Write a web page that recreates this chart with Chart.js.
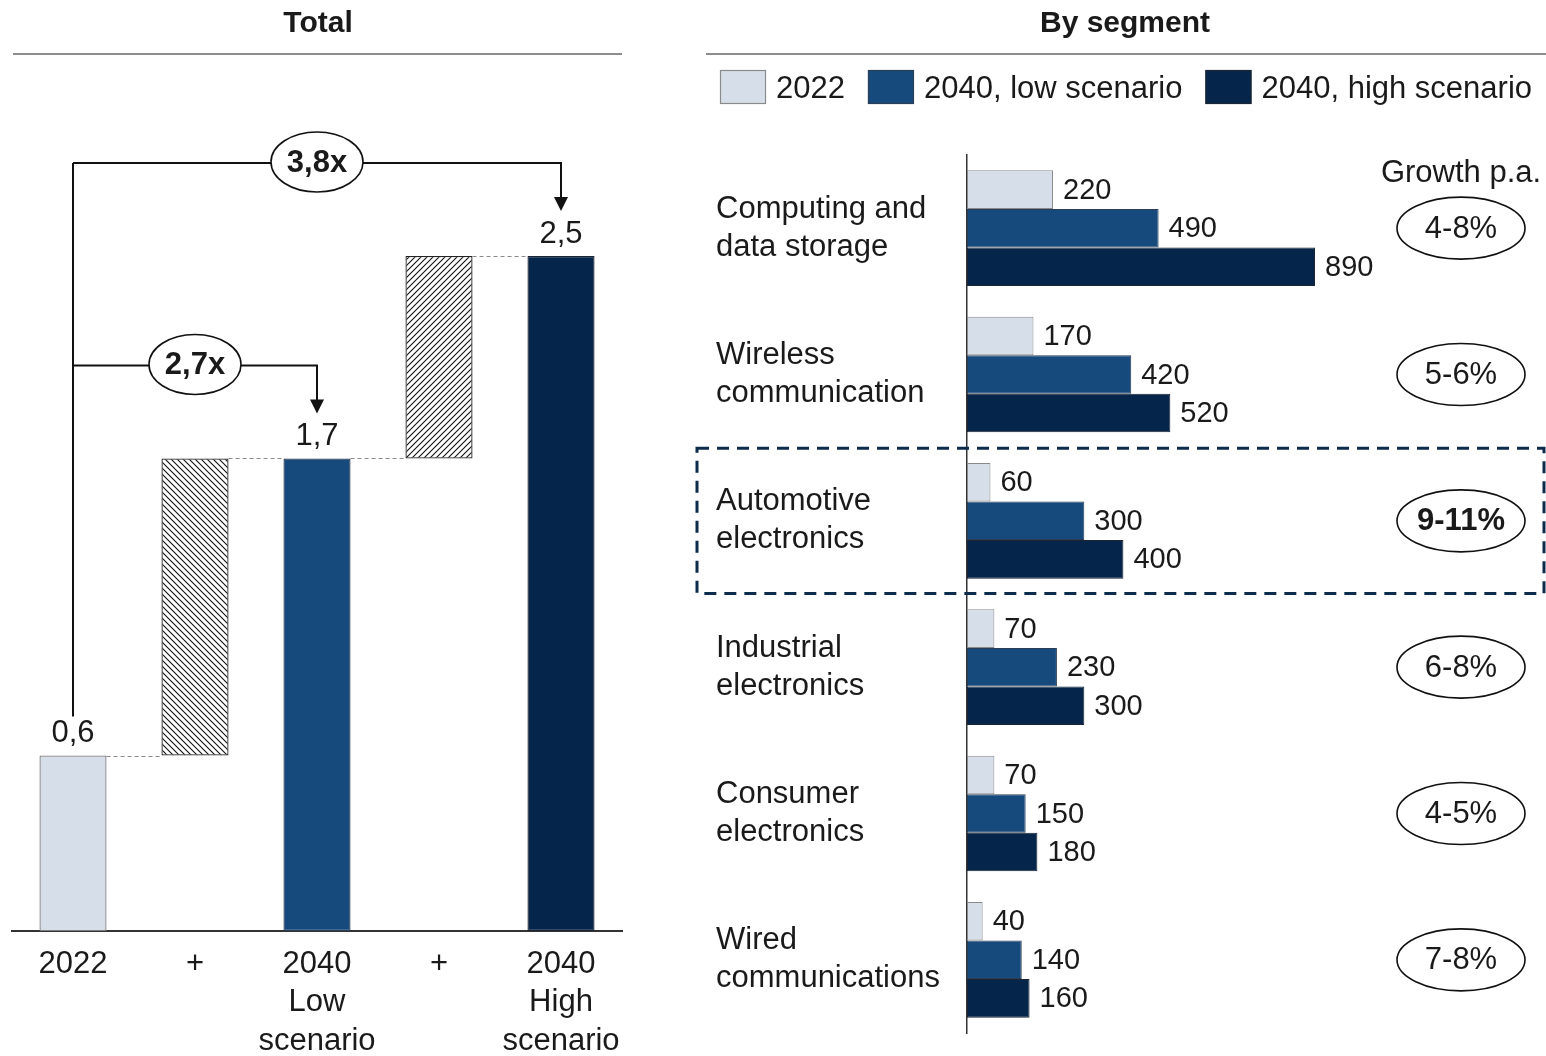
<!DOCTYPE html>
<html>
<head>
<meta charset="utf-8">
<script src="https://cdn.jsdelivr.net/npm/chart.js@4"></script>
<style>
  body { margin: 0; background: #fff; width: 1546px; height: 1056px; overflow: hidden; position: relative; }
  canvas { position: absolute; top: 0; }
  #totalChart { left: 0; }
  #segmentChart { left: 640px; }
</style>
</head>
<body>
<canvas id="totalChart" width="640" height="1056"></canvas>
<canvas id="segmentChart" width="906" height="1056"></canvas>
<script>
// Left: total market (waterfall)
const totalCategories = [['2022'], ['+'], ['2040', 'Low', 'scenario'], ['+'], ['2040', 'High', 'scenario']];
const totalRanges = [[0, 0.65], [0.65, 1.75], [0, 1.75], [1.75, 2.5], [0, 2.5]];
const totalLabels = ['0,6', '', '1,7', '', '2,5'];
const multipleLabels = ['2,7x', '3,8x'];
const multipleTargets = [2, 4];

// Right: by segment
const segments = [['Computing and', 'data storage'], ['Wireless', 'communication'], ['Automotive', 'electronics'],
  ['Industrial', 'electronics'], ['Consumer', 'electronics'], ['Wired', 'communications']];
const seriesNames = ['2022', '2040, low scenario', '2040, high scenario'];
const values2022 = [220, 170, 60, 70, 70, 40];
const valuesLow = [490, 420, 300, 230, 150, 140];
const valuesHigh = [890, 520, 400, 300, 180, 160];
const growthLabels = ['4-8%', '5-6%', '9-11%', '6-8%', '4-5%', '7-8%'];
const highlightIndex = 2;

const FONT = '"Liberation Sans", Arial, Helvetica, sans-serif';
const TEXT = '#1a1a1a';
const LIGHT = '#d6dfe9';
const MID = '#174a7c';
const DARK = '#05264a';

function hatch(dir) {
    const c = document.createElement('canvas');
    c.width = 6; c.height = 6;
    const g = c.getContext('2d');
    g.fillStyle = '#fff';
    g.fillRect(0, 0, 6, 6);
    g.strokeStyle = '#111';
    g.lineWidth = 1.1;
    g.beginPath();
    if (dir === '\\') {
        g.moveTo(-1, -1); g.lineTo(7, 7);
        g.moveTo(-1, 5); g.lineTo(1, 7);
        g.moveTo(5, -1); g.lineTo(7, 1);
    } else {
        g.moveTo(-1, 7); g.lineTo(7, -1);
        g.moveTo(-1, 1); g.lineTo(1, -1);
        g.moveTo(5, 7); g.lineTo(7, 5);
    }
    g.stroke();
    return g.createPattern(c, 'repeat');
}

function ellipse(ctx, cx, cy, rx, ry, text, bold) {
    ctx.save();
    ctx.beginPath();
    ctx.ellipse(cx, cy, rx, ry, 0, 0, Math.PI * 2);
    ctx.fillStyle = '#fff';
    ctx.fill();
    ctx.lineWidth = 1.6;
    ctx.strokeStyle = '#111';
    ctx.stroke();
    ctx.fillStyle = TEXT;
    ctx.font = (bold ? 'bold ' : '') + '31px ' + FONT;
    ctx.textAlign = 'center';
    ctx.textBaseline = 'middle';
    ctx.fillText(text, cx, cy + 1);
    ctx.restore();
}

const totalPlugin = {
    id: 'totalPlugin',
    afterDatasetsDraw(chart) {
        const ctx = chart.ctx;
        const meta = chart.getDatasetMeta(0);
        const y = chart.scales.y;
        ctx.save();
        // title
        ctx.fillStyle = TEXT;
        ctx.font = 'bold 30px ' + FONT;
        ctx.textAlign = 'center';
        ctx.textBaseline = 'middle';
        ctx.fillText('Total', 318, 24);
        ctx.strokeStyle = '#666';
        ctx.lineWidth = 1.5;
        ctx.beginPath(); ctx.moveTo(13, 54); ctx.lineTo(622, 54); ctx.stroke();

        // dashed connectors
        ctx.strokeStyle = '#8a8a8a';
        ctx.lineWidth = 1;
        ctx.setLineDash([4, 3]);
        for (let i = 0; i < totalRanges.length - 1; i++) {
            const a = meta.data[i], b = meta.data[i + 1];
            const ly = Math.round(y.getPixelForValue(totalRanges[i][1])) + 0.5;
            ctx.beginPath();
            ctx.moveTo(a.x + a.width / 2, ly);
            ctx.lineTo(b.x - b.width / 2, ly);
            ctx.stroke();
        }
        ctx.setLineDash([]);

        // value labels
        ctx.fillStyle = TEXT;
        ctx.font = '31px ' + FONT;
        totalLabels.forEach((t, i) => {
            if (!t) return;
            const bar = meta.data[i];
            ctx.fillText(t, bar.x, y.getPixelForValue(totalRanges[i][1]) - 22);
        });

        // multiple brackets
        const start = meta.data[0];
        const startTop = y.getPixelForValue(totalRanges[0][1]);
        ctx.strokeStyle = '#111';
        ctx.lineWidth = 2;
        let highest = Infinity;
        const items = multipleTargets.map((t, k) => {
            const bar = meta.data[t];
            const top = y.getPixelForValue(totalRanges[t][1]);
            const lineY = top - 93;
            highest = Math.min(highest, lineY);
            return { x: bar.x, top, lineY, label: multipleLabels[k] };
        });
        ctx.beginPath();
        ctx.moveTo(start.x, startTop - 39);
        ctx.lineTo(start.x, highest);
        ctx.stroke();
        items.forEach(it => {
            const tipY = it.top - 45;
            ctx.beginPath();
            ctx.moveTo(start.x, it.lineY);
            ctx.lineTo(it.x, it.lineY);
            ctx.lineTo(it.x, tipY - 12);
            ctx.stroke();
            ctx.fillStyle = '#111';
            ctx.beginPath();
            ctx.moveTo(it.x - 7, tipY - 14);
            ctx.lineTo(it.x + 7, tipY - 14);
            ctx.lineTo(it.x, tipY);
            ctx.closePath();
            ctx.fill();
            ellipse(ctx, (start.x + it.x) / 2, it.lineY - 1, 46, 30, it.label, true);
        });
        ctx.restore();
    }
};

new Chart(document.getElementById('totalChart'), {
    type: 'bar',
    data: {
        labels: totalCategories,
        datasets: [{
            data: totalRanges,
            backgroundColor: [LIGHT, hatch('\\'), MID, hatch('/'), DARK],
            borderColor: ['#7d7d7d', '#222', '#2c3e55', '#222', '#1b2533'],
            borderWidth: 1.3,
            borderSkipped: false,
            categoryPercentage: 1,
            barPercentage: 0.55
        }]
    },
    options: {
        responsive: false,
        animation: false,
        layout: { padding: { left: 12, right: 18, top: 121, bottom: 0 } },
        plugins: { legend: { display: false }, tooltip: { enabled: false } },
        scales: {
            x: {
                grid: { display: false },
                border: { display: true, color: '#333', width: 2 },
                ticks: { color: TEXT, font: { size: 31, family: FONT, lineHeight: 1.24 }, padding: 6, maxRotation: 0, autoSkip: false },
                afterFit(s) { s.height = 125; }
            },
            y: { display: false, min: 0, max: 3 }
        }
    },
    plugins: [totalPlugin]
});

const segmentPlugin = {
    id: 'segmentPlugin',
    afterDatasetsDraw(chart) {
        const ctx = chart.ctx;
        const area = chart.chartArea;
        const ys = chart.scales.y;
        ctx.save();
        // title
        ctx.fillStyle = TEXT;
        ctx.font = 'bold 30px ' + FONT;
        ctx.textAlign = 'center';
        ctx.textBaseline = 'middle';
        ctx.fillText('By segment', 485, 24);
        ctx.strokeStyle = '#666';
        ctx.lineWidth = 1.5;
        ctx.beginPath(); ctx.moveTo(66, 54); ctx.lineTo(906, 54); ctx.stroke();

        // legend
        ctx.font = '31px ' + FONT;
        ctx.textAlign = 'left';
        let lx = 80;
        chart.data.datasets.forEach(ds => {
            ctx.fillStyle = ds.backgroundColor;
            ctx.fillRect(lx, 70, 46, 34);
            ctx.strokeStyle = ds.borderColor;
            ctx.lineWidth = 1.2;
            ctx.strokeRect(lx + 0.5, 70.5, 45, 33);
            ctx.fillStyle = TEXT;
            ctx.fillText(ds.label, lx + 56, 89);
            lx += 56 + ctx.measureText(ds.label).width + 23;
        });

        // value labels
        ctx.font = '29px ' + FONT;
        chart.data.datasets.forEach((ds, d) => {
            chart.getDatasetMeta(d).data.forEach((bar, i) => {
                ctx.fillText(String(ds.data[i]), bar.x + 10, bar.y + 1);
            });
        });

        // growth column
        ctx.font = '31px ' + FONT;
        ctx.textAlign = 'center';
        ctx.fillText('Growth p.a.', 821, 173);
        growthLabels.forEach((g, i) => {
            ellipse(ctx, 821, ys.getPixelForValue(i), 64, 31, g, i === highlightIndex);
        });

        // highlight box
        const band = (area.bottom - area.top) / segments.length;
        const cy = ys.getPixelForValue(highlightIndex);
        ctx.strokeStyle = '#0d2b4b';
        ctx.lineWidth = 3;
        ctx.setLineDash([12, 8]);
        ctx.strokeRect(57, cy - band / 2 + 0.5, 847, band - 1);
        ctx.restore();
    }
};

new Chart(document.getElementById('segmentChart'), {
    type: 'bar',
    data: {
        labels: segments,
        datasets: [
            { label: seriesNames[0], data: values2022, backgroundColor: LIGHT, borderColor: '#8a8a8a' },
            { label: seriesNames[1], data: valuesLow, backgroundColor: MID, borderColor: '#2c3e55' },
            { label: seriesNames[2], data: valuesHigh, backgroundColor: DARK, borderColor: '#1b2533' }
        ]
    },
    options: {
        indexAxis: 'y',
        responsive: false,
        animation: false,
        datasets: { bar: { categoryPercentage: 0.79, barPercentage: 1, borderWidth: 1, borderSkipped: false } },
        layout: { padding: { left: 76, right: 12, top: 155, bottom: 23 } },
        plugins: { legend: { display: false }, tooltip: { enabled: false } },
        scales: {
            x: { display: false, min: 0, max: 1450 },
            y: {
                grid: { display: false },
                border: { display: true, color: '#333', width: 1.5 },
                ticks: { crossAlign: 'far', color: TEXT, font: { size: 31, family: FONT, lineHeight: 1.23 }, padding: 0, autoSkip: false },
                afterFit(s) { s.width = 251; s.paddingTop = 0; s.paddingBottom = 0; }
            }
        }
    },
    plugins: [segmentPlugin]
});
</script>
</body>
</html>
